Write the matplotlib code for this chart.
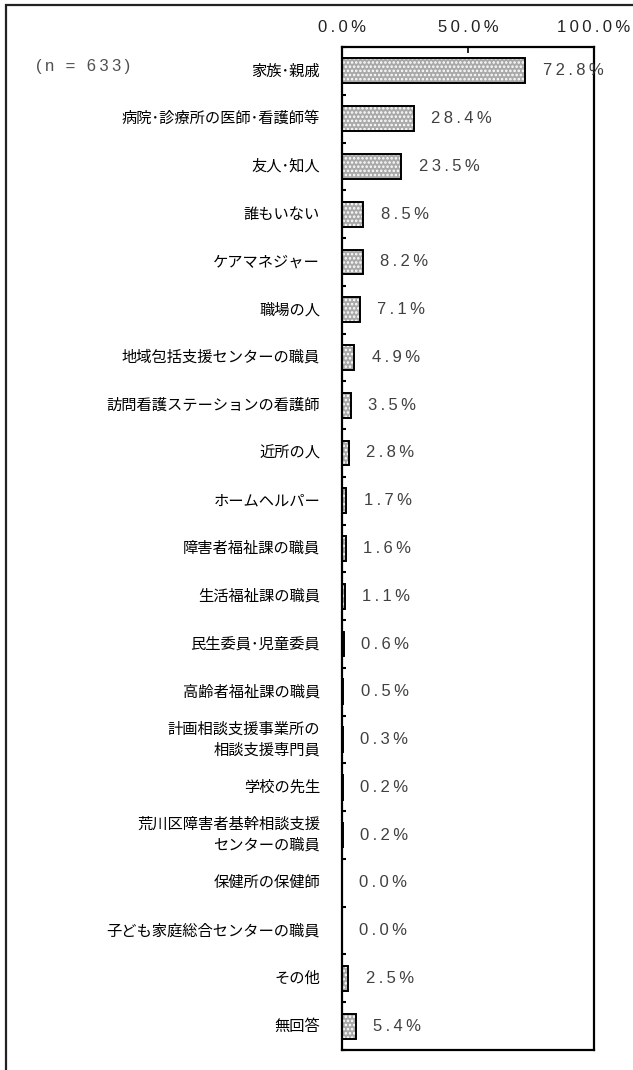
import numpy as np
import matplotlib.pyplot as plt
from matplotlib.patches import Rectangle

plt.rcParams['font.family'] = ['Noto Sans CJK JP', 'DejaVu Sans']
plt.rcParams['hatch.linewidth'] = 1.2

# data
labels = ["家族･親戚", "病院･診療所の医師･看護師等", "友人･知人", "誰もいない",
          "ケアマネジャー", "職場の人", "地域包括支援センターの職員",
          "訪問看護ステーションの看護師", "近所の人", "ホームヘルパー",
          "障害者福祉課の職員", "生活福祉課の職員", "民生委員･児童委員",
          "高齢者福祉課の職員", "計画相談支援事業所の\n相談支援専門員", "学校の先生",
          "荒川区障害者基幹相談支援\nセンターの職員", "保健所の保健師",
          "子ども家庭総合センターの職員", "その他", "無回答"]
values = [72.8, 28.4, 23.5, 8.5, 8.2, 7.1, 4.9, 3.5, 2.8, 1.7, 1.6, 1.1,
          0.6, 0.5, 0.3, 0.2, 0.2, 0.0, 0.0, 2.5, 5.4]
xticks = [0, 50, 100]
n_label = "(n = 633)"

num_font = ['Liberation Sans', 'DejaVu Sans']


def spaced(s):
    # wide letter spacing like the original
    return '\u2009'.join(s)


fig = plt.figure(figsize=(6.33, 10.70), dpi=100)
ax = fig.add_axes([342 / 633, 1 - 1050 / 1070, 252 / 633, 1003 / 1070])

y = np.arange(len(labels))
ax.barh(y, values, height=0.52, color='#a9a9a9', hatch='....',
        edgecolor='white', linewidth=0)
ax.barh(y, values, height=0.52, fill=False, edgecolor='black', linewidth=1.4)

for yi, v in zip(y, values):
    ax.annotate(spaced(f"{v:.1f}%"), xy=(v, yi), xytext=(12.5, 0),
                textcoords='offset points', va='center', ha='left',
                fontsize=12, color='#404040', family=num_font)

ax.set_xlim(0, 100)
ax.set_ylim(len(labels) - 0.5, -0.5)
ax.xaxis.tick_top()
ax.set_xticks(xticks)
ax.set_xticklabels([spaced(f"{t:.1f}%") for t in xticks], family=num_font,
                   fontsize=12, color='#222222')
ax.tick_params(axis='x', direction='in', length=4, width=1.2, pad=9)

ax.set_yticks(np.arange(len(labels) + 1) - 0.5)
ax.set_yticklabels([])
ax.tick_params(axis='y', direction='in', length=3, width=1.5)
for yi, lab in zip(y, labels):
    ax.text(-8.7, yi, lab, ha='right', va='center', fontsize=11,
            color='black', linespacing=1.3)

for s in ax.spines.values():
    s.set_linewidth(1.6)

fig.text(36 / 633, 1 - 67 / 1070, spaced(n_label), ha='left', va='center',
         fontsize=12, color='#505050', family=num_font)

# outer frame (right and bottom edges are cut off)
fig.patches.append(Rectangle((6 / 633, -0.1), 1.2, 1.1 - 5 / 1070,
                             transform=fig.transFigure, fill=False,
                             edgecolor='#222222', linewidth=1.6))

fig.savefig('out.png', dpi=100)
